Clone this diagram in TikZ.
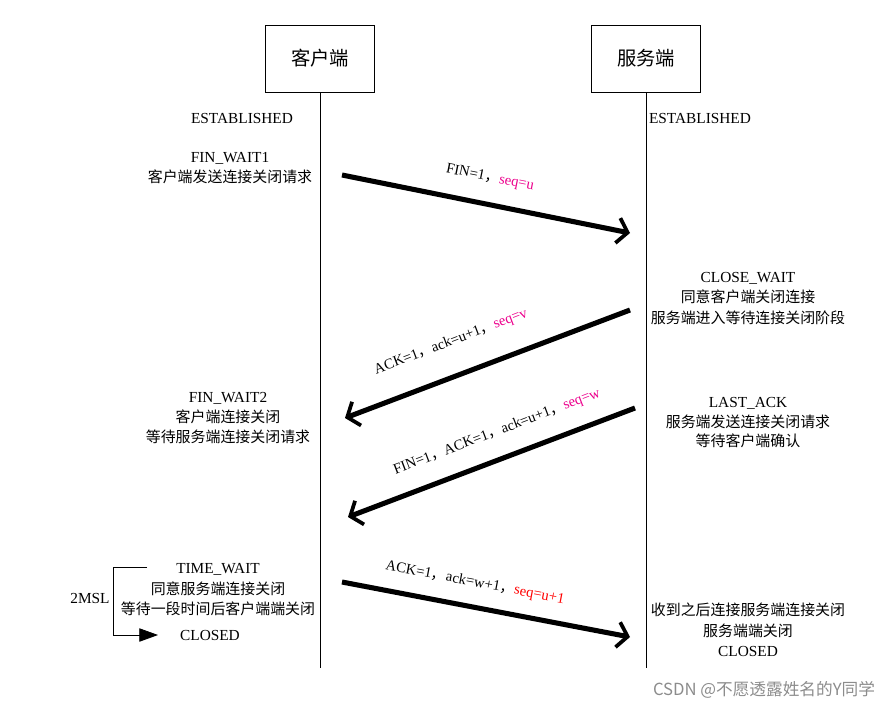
\documentclass[tikz,border=0pt]{standalone}
\usepackage{fontspec}
\setmainfont{Liberation Serif}
\newfontfamily\cjk{Noto Sans CJK SC}
\newfontfamily\wmfont{Noto Sans CJK SC}
\usetikzlibrary{arrows.meta}
\begin{document}
\begin{tikzpicture}[x=0.75pt,y=-0.75pt,
  actor/.style={draw,thin,minimum width=82pt,minimum height=50pt,font=\cjk\fontsize{14.5}{16}\selectfont},
  life/.style={draw,line width=0.6pt},
  st/.style={font=\fontsize{11.5}{13}\selectfont},
  zh/.style={font=\cjk\fontsize{11.2}{13}\selectfont},
  msg/.style={line width=3.8pt,-{Straight Barb[length=7.5pt,width=19pt,line width=2.8pt]}},
  lbl/.style={font=\fontsize{11}{12}\selectfont,inner sep=1pt},
]
\useasboundingbox (0,0) rectangle (892,708);
% actors
\node[actor] (cli) at (320,58.5) {客户端};
\node[actor] (srv) at (646,58.5) {服务端};
\coordinate (cliend) at (320,668);
\coordinate (srvend) at (646,668);
\draw[life] (cli.south) -- (cliend);
\draw[life] (srv.south) -- (srvend);
% states
\node[st] (est1) at (242,118) {ESTABLISHED};
\node[st] (est2) at (700,118) {ESTABLISHED};
\node[st] (fw1) at (230,158) {FIN\_WAIT1};
\node[zh] (fw1a) at (230,177) {客户端发送连接关闭请求};
\node[st] (cw) at (748,278) {CLOSE\_WAIT};
\node[zh] (cwa) at (748,297) {同意客户端关闭连接};
\node[zh] (cwb) at (748,318) {服务端进入等待连接关闭阶段};
\node[st] (fw2) at (228,398) {FIN\_WAIT2};
\node[zh] (fw2a) at (228,417) {客户端连接关闭};
\node[zh] (fw2b) at (228,437) {等待服务端连接关闭请求};
\node[st] (la) at (748,403) {LAST\_ACK};
\node[zh] (laa) at (748,422) {服务端发送连接关闭请求};
\node[zh] (lab) at (748,441) {等待客户端确认};
\node[st] (tw) at (218,569) {TIME\_WAIT};
\node[zh] (twa) at (218,589) {同意服务端连接关闭};
\node[zh] (twb) at (218,609) {等待一段时间后客户端端关闭};
\node[st] (cl1) at (210,635) {CLOSED};
\node[zh] (sc1) at (748,610) {收到之后连接服务端连接关闭};
\node[zh] (sc2) at (748,631) {服务端端关闭};
\node[st] (cl2) at (748,651) {CLOSED};
% 2MSL bracket
\node[st] (msl) at (90,598) {2MSL};
\coordinate (b0) at (147,567);
\coordinate (b1) at (113,567);
\coordinate (b2) at (113,635);
\coordinate (b3) at (158,635);
\draw[line width=0.6pt,-{Triangle[length=14pt,width=10pt]}] (b0) -- (b1) -- (b2) -- (b3);
% messages
\coordinate (m1s) at (342,175); \coordinate (m1e) at (630,233);
\coordinate (m2s) at (630,310); \coordinate (m2e) at (345,418);
\coordinate (m3s) at (635,408); \coordinate (m3e) at (348,517);
\coordinate (m4s) at (342,582); \coordinate (m4e) at (630,637);
\draw[msg] (m1s) -- (m1e);
\draw[msg] (m2s) -- (m2e);
\draw[msg] (m3s) -- (m3e);
\draw[msg] (m4s) -- (m4e);
\node[lbl,rotate=-11.4] (l1) at (490,178) {FIN=1{\cjk ，}\textcolor{magenta}{seq=u}};
\node[lbl,rotate=20.8] (l2) at (451,342) {ACK=1{\cjk ，}ack=u+1{\cjk ，}\textcolor{magenta}{seq=v}};
\node[lbl,rotate=20.8] (l3) at (497,432) {FIN=1{\cjk ，}ACK=1{\cjk ，}ack=u+1{\cjk ，}\textcolor{magenta}{seq=w}};
\node[lbl,rotate=-10.8] (l4) at (475,583) {ACK=1{\cjk ，}ack=w+1{\cjk ，}\textcolor{red}{seq=u+1}};
% watermark
\node[font=\wmfont\fontsize{12.5}{14}\selectfont,text=black!45] (wm) at (764,690) {CSDN @不愿透露姓名的Y同学};
\end{tikzpicture}
\end{document}
